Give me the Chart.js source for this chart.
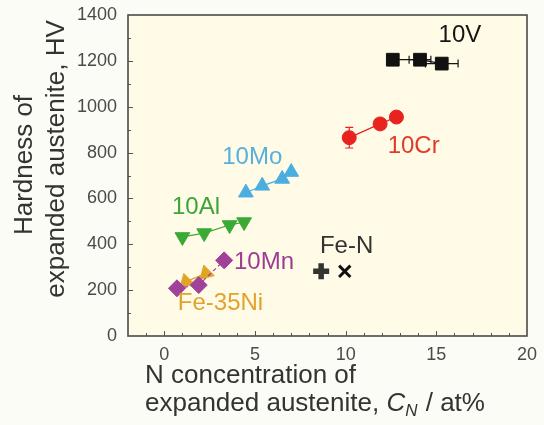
<!DOCTYPE html>
<html>
<head>
<meta charset="utf-8">
<script src="https://cdn.jsdelivr.net/npm/chart.js@4.4.1/dist/chart.umd.min.js"></script>
<style>
  html, body { margin: 0; padding: 0; background: #fcfcf6; }
  #wrap { width: 544px; height: 425px; }
</style>
</head>
<body>
<div id="wrap"><canvas id="grafico" width="544" height="425"></canvas></div>
<script>
// datos: x = N (at%), y = dureza (HV)
const v10X = [12.6, 14.1, 15.3];
const v10Y = [1205, 1205, 1188];
const v10XErr = [0.3, 0.6, 0.9];

const cr10X = [10.2, 11.9, 12.8];
const cr10Y = [865, 925, 955];
const cr10YErr = [45, 15, 15];

const mo10X = [4.5, 5.4, 6.5, 7.0];
const mo10Y = [625, 655, 685, 715];

const al10X = [1.0, 2.2, 3.6, 4.4];
const al10Y = [432, 449, 484, 497];

const mn10X = [0.7, 1.9, 3.3];
const mn10Y = [208, 222, 330];

const ni35X = [1.2, 2.3];
const ni35Y = [237, 273];

const feNX = [8.65, 9.95];
const feNY = [282, 282];

const xTicks = [0, 5, 10, 15, 20];
const yTicks = [0, 200, 400, 600, 800, 1000, 1200, 1400];

// etiquetas de series, en coordenadas de datos
const etiquetas = [
  { text: '10V', x: 16.3, y: 1310, color: '#151515' },
  { text: '10Cr', x: 13.75, y: 826, color: '#e23a28' },
  { text: '10Mo', x: 4.85, y: 780, color: '#58b0dd' },
  { text: '10Al', x: 1.75, y: 560, color: '#3aa637' },
  { text: '10Mn', x: 5.5, y: 322, color: '#9c3d94' },
  { text: 'Fe-35Ni', x: 3.1, y: 142, color: '#e2a22e' },
  { text: 'Fe-N', x: 10.05, y: 392, color: '#333333' }
];

const FONT = '"Liberation Sans", Arial, sans-serif';

function puntos(xs, ys) {
  return xs.map((x, i) => ({ x: x, y: ys[i] }));
}

function serie(label, xs, ys, color, extra) {
  return Object.assign({
    label: label,
    data: puntos(xs, ys),
    showLine: true,
    borderColor: color,
    backgroundColor: color,
    pointBackgroundColor: color,
    pointBorderColor: color,
    borderWidth: 1.2,
    pointBorderWidth: 1,
    pointRadius: 8
  }, extra || {});
}

const plugins = [{
  id: 'fondo',
  beforeDraw(chart) {
    const c = chart.ctx, a = chart.chartArea;
    c.save();
    c.fillStyle = '#fcfcf6';
    c.fillRect(0, 0, chart.width, chart.height);
    c.fillStyle = '#fffbe7';
    c.fillRect(a.left, a.top, a.right - a.left, a.bottom - a.top);
    c.restore();
  }
}, {
  id: 'barrasError',
  beforeDatasetsDraw(chart) {
    const c = chart.ctx;
    const sx = chart.scales.x, sy = chart.scales.y;
    c.save();
    c.lineWidth = 1.2;
    // 10V error horizontal
    c.strokeStyle = '#151515';
    v10X.forEach((x, i) => {
      const py = sy.getPixelForValue(v10Y[i]);
      const x1 = sx.getPixelForValue(x - v10XErr[i]);
      const x2 = sx.getPixelForValue(x + v10XErr[i]);
      c.beginPath();
      c.moveTo(x1, py); c.lineTo(x2, py);
      c.moveTo(x1, py - 4); c.lineTo(x1, py + 4);
      c.moveTo(x2, py - 4); c.lineTo(x2, py + 4);
      c.stroke();
    });
    // 10Cr error vertical
    c.strokeStyle = '#e8231f';
    cr10X.forEach((x, i) => {
      const px = sx.getPixelForValue(x);
      const y1 = sy.getPixelForValue(cr10Y[i] - cr10YErr[i]);
      const y2 = sy.getPixelForValue(cr10Y[i] + cr10YErr[i]);
      c.beginPath();
      c.moveTo(px, y1); c.lineTo(px, y2);
      c.moveTo(px - 4, y1); c.lineTo(px + 4, y1);
      c.moveTo(px - 4, y2); c.lineTo(px + 4, y2);
      c.stroke();
    });
    c.restore();
  }
}, {
  id: 'marco',
  afterDatasetsDraw(chart) {
    const c = chart.ctx, a = chart.chartArea;
    const sx = chart.scales.x, sy = chart.scales.y;
    c.save();
    c.strokeStyle = '#555';
    c.lineWidth = 1;
    // ticks hacia dentro
    c.beginPath();
    for (let v = -1; v < 20; v++) {
      const px = Math.round(sx.getPixelForValue(v)) + 0.5;
      const len = v % 5 === 0 ? 5 : 3;
      c.moveTo(px, a.bottom); c.lineTo(px, a.bottom - len);
    }
    for (let v = 100; v < 1400; v += 100) {
      const py = Math.round(sy.getPixelForValue(v)) + 0.5;
      const len = v % 200 === 0 ? 5 : 3;
      c.moveTo(a.left, py); c.lineTo(a.left + len, py);
    }
    c.stroke();
    c.lineWidth = 1.6;
    c.strokeStyle = '#4a4a4a';
    c.strokeRect(a.left, a.top, a.right - a.left, a.bottom - a.top);
    c.restore();
  }
}, {
  id: 'etiquetas',
  afterDraw(chart) {
    const c = chart.ctx;
    const sx = chart.scales.x, sy = chart.scales.y;
    c.save();
    c.font = '24px ' + FONT;
    c.textAlign = 'center';
    c.textBaseline = 'middle';
    etiquetas.forEach(e => {
      c.fillStyle = e.color;
      c.fillText(e.text, sx.getPixelForValue(e.x), sy.getPixelForValue(e.y));
    });

    // título eje y (dos líneas, rotado)
    c.font = '26px ' + FONT;
    c.fillStyle = '#333';
    c.save();
    c.translate(25, 165);
    c.rotate(-Math.PI / 2);
    c.fillText('Hardness of', 0, 0);
    c.restore();
    c.save();
    c.translate(57, 159);
    c.rotate(-Math.PI / 2);
    c.fillText('expanded austenite, HV', 0, 0);
    c.restore();

    // título eje x con C_N en cursiva
    c.textAlign = 'left';
    let x0 = 145;
    c.fillText('N concentration of', x0, 376);
    let t = 'expanded austenite, ';
    c.fillText(t, x0, 404);
    x0 += c.measureText(t).width;
    c.font = 'italic 26px ' + FONT;
    c.fillText('C', x0, 404);
    x0 += c.measureText('C').width;
    c.font = 'italic 17px ' + FONT;
    c.fillText('N', x0, 411);
    x0 += c.measureText('N').width + 1;
    c.font = '26px ' + FONT;
    c.fillText(' / at%', x0, 404);
    c.restore();
  }
}];

new Chart(document.getElementById('grafico').getContext('2d'), {
  type: 'scatter',
  data: {
    datasets: [
      serie('10V', v10X, v10Y, '#111111', { pointStyle: 'rect', pointRadius: 9 }),
      serie('10Cr', cr10X, cr10Y, '#e8231f', { pointStyle: 'circle', pointRadius: 7 }),
      serie('10Mo', mo10X, mo10Y, '#4aaee0', { pointStyle: 'triangle', pointRadius: 8.5 }),
      serie('10Al', al10X, al10Y, '#3aaa35', { pointStyle: 'triangle', pointRotation: 180, pointRadius: 8.5 }),
      serie('10Mn', mn10X, mn10Y, '#a0429a', { pointStyle: 'rectRot', pointRadius: 8.5, borderDash: [4, 3] }),
      serie('Fe-35Ni', ni35X, ni35Y, '#e0a526', { pointStyle: 'triangle', pointRotation: -15, pointRadius: 8.5 }),
      {
        label: 'Fe-N',
        data: puntos(feNX, feNY),
        showLine: false,
        pointStyle: ['cross', 'crossRot'],
        pointRadius: [8, 8],
        pointBorderWidth: [5.5, 3],
        pointBorderColor: ['#333333', '#111111'],
        pointBackgroundColor: ['#333333', '#111111']
      }
    ]
  },
  options: {
    responsive: false,
    animation: false,
    layout: { padding: { top: 15, right: 17, left: 0, bottom: 0 } },
    plugins: {
      legend: { display: false },
      tooltip: { enabled: false }
    },
    scales: {
      x: {
        type: 'linear',
        min: -2,
        max: 20,
        grid: { display: false },
        border: { display: false },
        afterBuildTicks: s => { s.ticks = xTicks.map(v => ({ value: v })); },
        afterFit: s => { s.height = 89; },
        ticks: { color: '#4a4a4a', font: { family: FONT, size: 18 }, padding: 0, maxRotation: 0, callback: v => String(v) }
      },
      y: {
        min: 0,
        max: 1400,
        grid: { display: false },
        border: { display: false },
        afterBuildTicks: s => { s.ticks = yTicks.map(v => ({ value: v })); },
        afterFit: s => { s.width = 128; },
        ticks: { color: '#4a4a4a', font: { family: FONT, size: 18 }, padding: 3, callback: v => String(v) }
      }
    }
  },
  plugins: plugins
});
</script>
</body>
</html>
